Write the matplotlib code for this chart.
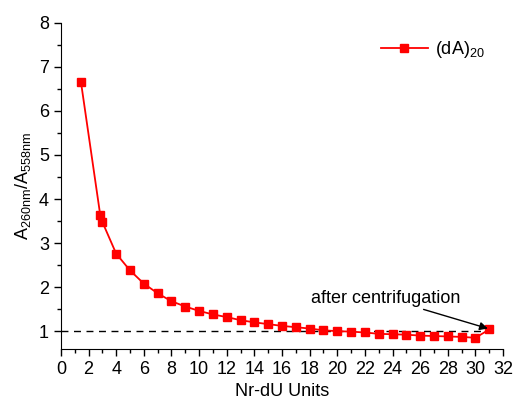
import matplotlib.pyplot as plt
from matplotlib.ticker import MultipleLocator

plt.rcParams['font.family'] = ['Liberation Sans', 'DejaVu Sans']
plt.rcParams['mathtext.default'] = 'regular'

# Nr-dU units and absorbance ratio A260/A558
units = [1.45, 2.85, 3.0, 4, 5, 6, 7, 8, 9, 10, 11, 12, 13, 14, 15, 16,
         17, 18, 19, 20, 21, 22, 23, 24, 25, 26, 27, 28, 29, 30, 31]
ratio = [6.66, 3.63, 3.48, 2.76, 2.38, 2.08, 1.86, 1.68, 1.56, 1.46, 1.38,
         1.32, 1.25, 1.20, 1.16, 1.12, 1.09, 1.06, 1.02, 1.00, 0.99, 0.97,
         0.94, 0.93, 0.92, 0.90, 0.89, 0.88, 0.87, 0.85, 1.04]

fig = plt.figure(figsize=(5.16, 4.07), dpi=100)
ax = fig.add_axes([0.118, 0.143, 0.857, 0.801])

ax.plot([0, 31], [1, 1], color='black', linestyle=(0, (5, 4)), linewidth=1)
ax.plot(units, ratio, color='red', marker='s', markersize=5.5,
        linewidth=1.3, label='(dA)$_{20}$')

ax.annotate('after centrifugation', xy=(30.9, 1.06), xytext=(23.5, 1.75),
            ha='center', va='center', fontsize=13,
            arrowprops=dict(arrowstyle='-|>', color='black', lw=1,
                            shrinkA=0, shrinkB=0, mutation_scale=12))

ax.set_xlim(0, 32)
ax.set_ylim(0.6, 8)
ax.xaxis.set_major_locator(MultipleLocator(2))
ax.xaxis.set_minor_locator(MultipleLocator(1))
ax.yaxis.set_major_locator(MultipleLocator(1))
ax.yaxis.set_minor_locator(MultipleLocator(0.5))
ax.tick_params(which='major', length=5, width=1, labelsize=13, direction='out')
ax.tick_params(which='minor', length=3, width=1, direction='out')
ax.spines['top'].set_visible(False)
ax.spines['right'].set_visible(False)

ax.set_xlabel('Nr-dU Units', fontsize=13)
ax.set_ylabel('A$_{260nm}$/A$_{558nm}$', fontsize=13)

ax.legend(loc='upper right', frameon=False, fontsize=13,
          bbox_to_anchor=(0.995, 1.0), handlelength=2.6, handletextpad=0.4)

fig.savefig('out.png', dpi=100)
